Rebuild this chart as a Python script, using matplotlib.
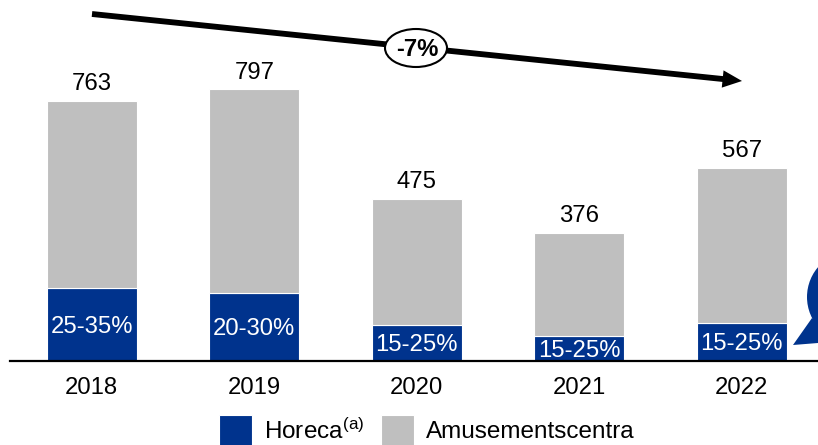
import matplotlib
matplotlib.use("Agg")
import matplotlib.pyplot as plt
import numpy as np
from matplotlib.patches import Circle, Ellipse, Polygon
from matplotlib.transforms import Affine2D

plt.rcParams['font.family'] = ['Liberation Sans', 'DejaVu Sans']
plt.rcParams['mathtext.fontset'] = 'custom'
plt.rcParams['mathtext.rm'] = 'Liberation Sans'
plt.rcParams['mathtext.default'] = 'regular'

years = ['2018', '2019', '2020', '2021', '2022']
totals = np.array([763, 797, 475, 376, 567])
horeca = np.array([214, 199, 106, 73, 111])
shares = ['25-35%', '20-30%', '15-25%', '15-25%', '15-25%']
cagr = '-7%'

BLUE = '#00338D'
GRAY = '#BFBFBF'
FS = 17.2

fig = plt.figure(figsize=(8.18, 4.45), dpi=100)
# axes run from the baseline to the top edge of the picture
ax = fig.add_axes([10 / 818, (445 - 361) / 445, 808 / 818, 361 / 445])

x = np.arange(len(years))
ax.bar(x, horeca, 0.555, color=BLUE, edgecolor='white', linewidth=0.8, label='Horeca$^{(a)}$')
ax.bar(x, totals - horeca, 0.555, bottom=horeca, color=GRAY, edgecolor='white', linewidth=0.8,
       label='Amusementscentra')

ax.set_xlim((10 - 91.8) / 162.5, (818 - 91.8) / 162.5)
ax.set_ylim(0, 361 / 0.341)

for i in x:
    ax.annotate(str(totals[i]), (i, totals[i]), xytext=(0, 4), textcoords='offset points',
                ha='center', va='bottom', fontsize=FS)
    ax.annotate(shares[i], (i, horeca[i] / 2), xytext=(0, -1.7), textcoords='offset points',
                ha='center', va='center', color='white', fontsize=FS)

ax.set_xticks(x, years, fontsize=FS)
ax.tick_params(axis='x', length=0, pad=11.5)
ax.set_yticks([])
for s in ['top', 'left', 'right']:
    ax.spines[s].set_visible(False)
ax.spines['bottom'].set_linewidth(1.6)

# everything outside the axes is placed in pixels from the top left corner
px = Affine2D().scale(1, -1).translate(0, 445)

ax.annotate('', xy=(742, 81), xytext=(92, 14), xycoords=px, textcoords=px,
            arrowprops=dict(arrowstyle='simple,tail_width=0.42,head_width=1.25,head_length=1.4',
                            facecolor='black', edgecolor='none', linewidth=0,
                            shrinkA=0, shrinkB=0, mutation_scale=10))
fig.add_artist(Ellipse((416, 48), 62, 38, transform=px, facecolor='white', edgecolor='black',
                       linewidth=1.5, zorder=5))
fig.text(417, 49, cagr, transform=px, ha='center', va='center', fontsize=17.2, fontweight='bold', zorder=6)

# speech bubble cut off by the right edge
fig.add_artist(Circle((853, 297), 46, transform=px, facecolor=BLUE, edgecolor='none'))
fig.add_artist(Polygon([(812, 318), (793, 345), (818, 343), (830, 330)], closed=True,
                       transform=px, facecolor=BLUE, edgecolor='none'))

fig.legend(loc='lower left', bbox_to_anchor=(212 / 818, -8 / 445), ncol=2, frameon=False,
           fontsize=17.5, handlelength=1.35, handleheight=1.55, handletextpad=0.5,
           columnspacing=0.68, borderpad=0.3, borderaxespad=0)

fig.savefig('out.png', dpi=100)
